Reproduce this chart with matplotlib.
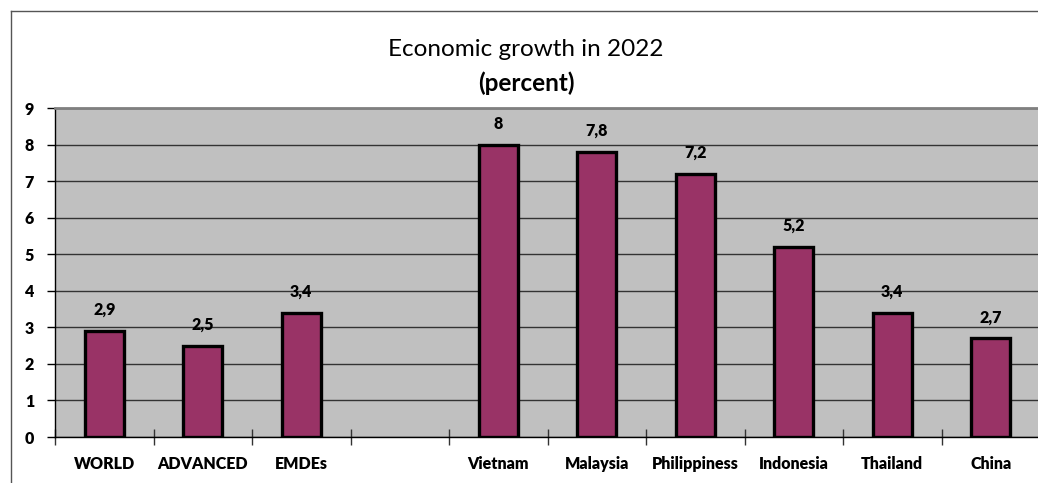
import matplotlib
matplotlib.use("Agg")
import matplotlib.pyplot as plt
import numpy as np
from matplotlib.lines import Line2D

plt.rcParams['font.family'] = ['Lato', 'DejaVu Sans']

categories = ["WORLD", "ADVANCED", "EMDEs", "", "Vietnam", "Malaysia",
              "Philippiness", "Indonesia", "Thailand", "China"]
values = [2.9, 2.5, 3.4, np.nan, 8, 7.8, 7.2, 5.2, 3.4, 2.7]
value_labels = ["2,9", "2,5", "3,4", "", "8", "7,8", "7,2", "5,2", "3,4", "2,7"]
yticks = [0, 1, 2, 3, 4, 5, 6, 7, 8, 9]

W, H = 1038, 483
fig = plt.figure(figsize=(W / 100, H / 100), dpi=100)
fig.patch.set_facecolor("white")

# outer frame
fig.add_artist(Line2D([11 / W, 11 / W], [0, 1 - 11 / H], transform=fig.transFigure,
                      color="#555555", lw=1.0))
fig.add_artist(Line2D([11 / W, 1], [1 - 11 / H, 1 - 11 / H], transform=fig.transFigure,
                      color="#555555", lw=1.0))

left, right, top, bottom = 55, 1040, 108, 437
ax = fig.add_axes([left / W, 1 - bottom / H, (right - left) / W, (bottom - top) / H])
ax.set_facecolor("#C0C0C0")

WEIGHT = "heavy"
FS = 11.5

x = np.arange(len(categories))
ax.bar(x, values, width=0.4, color="#993366", edgecolor="black",
       linewidth=2.4, zorder=3)
for xi, v, lab in zip(x, values, value_labels):
    if lab:
        ax.annotate(lab, (xi, v), xytext=(0, 15), textcoords="offset points",
                    ha="center", va="center", fontsize=FS, fontweight=WEIGHT)

ax.set_xlim(-0.5, len(categories) - 0.5)
ax.set_ylim(0, 9)
ax.set_yticks(yticks)
ax.set_yticklabels([str(t) for t in yticks], fontsize=FS, fontweight=WEIGHT)
ax.yaxis.grid(True, color="#333333", lw=1.0, zorder=1)
ax.set_axisbelow(True)

ax.set_xticks(x)
ax.set_xticklabels(categories, fontsize=FS, fontweight=WEIGHT)
ax.tick_params(axis="x", length=0, pad=14)
ax.set_xticks(np.arange(len(categories) + 1) - 0.5, minor=True)
ax.tick_params(axis="x", which="minor", direction="inout", length=12, width=1, color="#333333")
ax.tick_params(axis="y", direction="out", length=6, width=1, pad=9)

for s in ["left", "bottom"]:
    ax.spines[s].set_color("black")
    ax.spines[s].set_linewidth(1.0)
ax.spines["top"].set_color("#808080")
ax.spines["top"].set_linewidth(2.0)
ax.spines["right"].set_visible(False)

fig.text(526 / W, 1 - 49 / H, "Economic growth in 2022", ha="center", va="center",
         fontsize=17.5)
fig.text(526 / W, 1 - 83 / H, "(percent)", ha="center", va="center",
         fontsize=17.5, fontweight="bold")

fig.savefig("out.png", dpi=100)
